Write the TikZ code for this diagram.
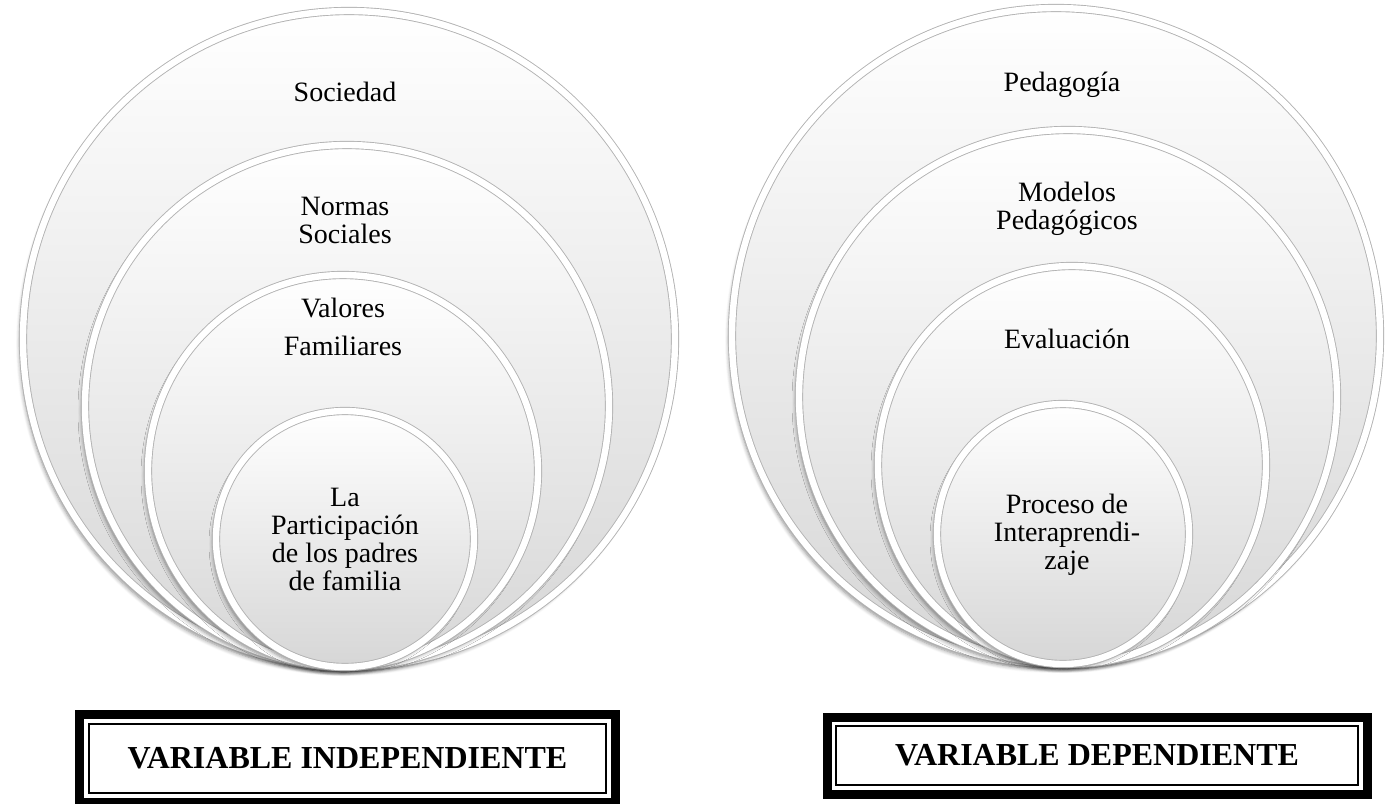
\documentclass[tikz,border=0pt]{standalone}
\usepackage{fontspec}
\setmainfont{Liberation Serif}
\usepackage{tikz}
\usetikzlibrary{shapes.geometric,shadows.blur}

\begin{document}
\begin{tikzpicture}[x=0.5pt,y=-0.5pt,
    ring/.style={ellipse,inner sep=0pt,draw=gray!60,line width=0.45pt,double=white,double distance=3.2pt,
        top color=white,bottom color=gray!32,
        blur shadow={shadow xshift=-1.5pt,shadow yshift=-2.5pt,shadow opacity=45,shadow blur steps=6,shadow blur radius=2pt}},
    ringtext/.style={align=center,font=\fontsize{14}{14}\selectfont},
    varbox/.style={rectangle,draw,line width=1pt,inner sep=0pt,font=\fontsize{16}{16}\selectfont\bfseries}]
    \useasboundingbox (0,0) rectangle (1386,803);

    % variable independiente
    \draw (349,339) node (soc) [ring,minimum width=326pt,minimum height=328pt] {};
    \draw (347,406) node (nor) [ring,minimum width=262pt,minimum height=261pt] {};
    \draw (343,471) node (val) [ring,minimum width=195pt,minimum height=196pt] {};
    \draw (345,539) node (par) [ring,minimum width=129pt,minimum height=128pt] {};
    \draw (345,92) node (socT) [ringtext] {Sociedad};
    \draw (345,220) node (norT) [ringtext] {Normas\\Sociales};
    \draw (343,327) node (valT) [ringtext] {Valores\\[5pt]Familiares};
    \draw (345,539) node (parT) [ringtext] {La\\Participación\\de los padres\\de familia};

    % variable dependiente
    \draw (1056,336) node (ped) [ring,minimum width=324pt,minimum height=328pt] {};
    \draw (1068,397) node (mod) [ring,minimum width=269pt,minimum height=267pt] {};
    \draw (1072,465) node (eva) [ring,minimum width=194pt,minimum height=199pt] {};
    \draw (1063,534) node (pro) [ring,minimum width=126pt,minimum height=130pt] {};
    \draw (1062,85) node (pedT) [ringtext] {Pedagogía};
    \draw (1067,209) node (modT) [ringtext] {Modelos\\Pedagógicos};
    \draw (1067,339) node (evaT) [ringtext] {Evaluación};
    \draw (1067,535) node (proT) [ringtext] {Proceso de\\Interaprendi-\\zaje};

    % recuadros
    \draw (347.5,758) node (indep) [varbox,minimum width=258.5pt,minimum height=34.5pt] {VARIABLE INDEPENDIENTE};
    \draw (1097,755.5) node (dep) [varbox,minimum width=261pt,minimum height=29.5pt] {VARIABLE DEPENDIENTE};
    \draw[line width=4.5pt] ([shift={(-4.25pt,4.25pt)}]indep.north west) rectangle ([shift={(4.25pt,-4.25pt)}]indep.south east);
    \draw[line width=4.5pt] ([shift={(-4pt,4pt)}]dep.north west) rectangle ([shift={(4pt,-4pt)}]dep.south east);
\end{tikzpicture}
\end{document}
